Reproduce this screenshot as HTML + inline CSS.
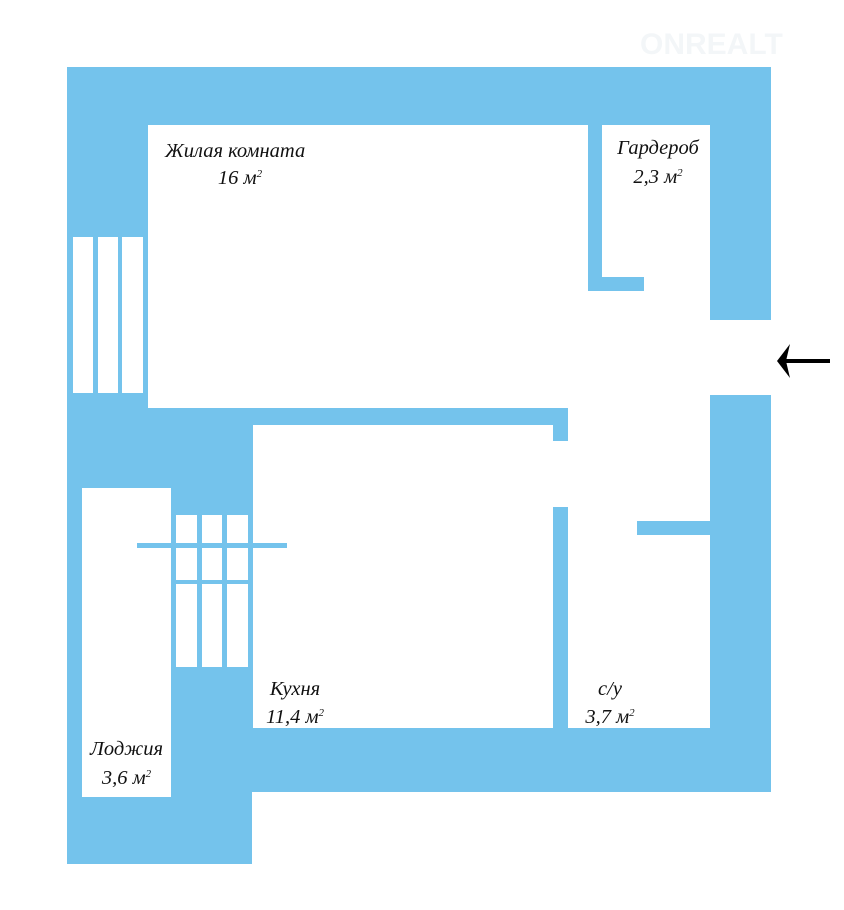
<!DOCTYPE html>
<html><head><meta charset="utf-8"><style>
body{margin:0;width:844px;height:910px;background:#fff;position:relative;overflow:hidden}
div{position:absolute}
.b{background:#74c3ec}
.w{background:#fff}
.t{font-family:"Liberation Serif",serif;font-style:italic;font-size:20.5px;color:#111;line-height:24px;text-align:center;white-space:nowrap}
sup{font-size:11px;vertical-align:7px}
</style></head><body>
<div class="b" style="left:67px;top:67px;width:704px;height:725px"></div>
<div class="b" style="left:67px;top:790px;width:185px;height:74px"></div>
<div class="w" style="left:710px;top:320px;width:62px;height:75px"></div>
<div class="w" style="left:148px;top:125px;width:562px;height:283px"></div>
<div class="w" style="left:568px;top:125px;width:142px;height:603px"></div>
<div class="w" style="left:253px;top:425px;width:300px;height:303px"></div>
<div class="w" style="left:553px;top:441px;width:15px;height:66px"></div>
<div class="b" style="left:588px;top:125px;width:14px;height:166px"></div>
<div class="b" style="left:588px;top:277px;width:56px;height:14px"></div>
<div class="b" style="left:637px;top:521px;width:73px;height:14px"></div>
<div class="w" style="left:82px;top:488px;width:89px;height:309px"></div>
<div class="w" style="left:73px;top:237px;width:20px;height:156px"></div>
<div class="w" style="left:98px;top:237px;width:20px;height:156px"></div>
<div class="w" style="left:122px;top:237px;width:21px;height:156px"></div>
<div class="w" style="left:176px;top:515px;width:21px;height:152px"></div>
<div class="w" style="left:202px;top:515px;width:20px;height:152px"></div>
<div class="w" style="left:227px;top:515px;width:21px;height:152px"></div>
<div class="b" style="left:137px;top:543px;width:150px;height:5px"></div>
<div class="b" style="left:171px;top:580px;width:82px;height:4px"></div>
<div class="t" style="left:165px;top:139px;text-align:left">Жилая комната</div>
<div class="t" style="left:200px;top:162px;width:80px">16 м<sup>2</sup></div>
<div class="t" style="left:604px;top:136px;width:108px">Гардероб</div>
<div class="t" style="left:604px;top:161px;width:108px">2,3 м<sup>2</sup></div>
<div class="t" style="left:250px;top:677px;width:90px">Кухня</div>
<div class="t" style="left:250px;top:701px;width:90px">11,4 м<sup>2</sup></div>
<div class="t" style="left:570px;top:677px;width:80px">с/у</div>
<div class="t" style="left:570px;top:701px;width:80px">3,7 м<sup>2</sup></div>
<div class="t" style="left:82px;top:737px;width:89px">Лоджия</div>
<div class="t" style="left:82px;top:762px;width:89px">3,6 м<sup>2</sup></div>
<svg style="position:absolute;left:770px;top:340px" width="70" height="44"><line x1="16" y1="21" x2="60" y2="21" stroke="#000" stroke-width="4"/><path d="M7 21 L20 4 L16 21 L20 38 Z" fill="#000"/></svg>
<div style="left:640px;top:28px;font-family:'Liberation Sans',sans-serif;font-weight:bold;font-size:30px;color:#f3f6f8">ONREALT</div>
</body></html>
